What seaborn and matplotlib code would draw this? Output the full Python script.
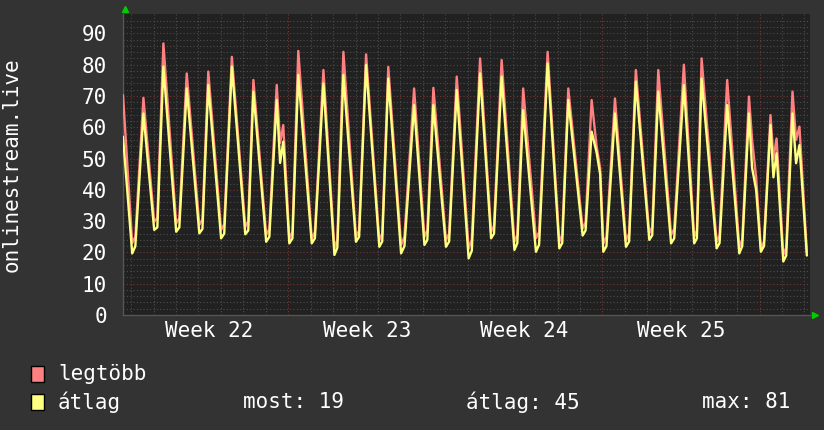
import numpy as np
import pandas as pd
import matplotlib
matplotlib.use("Agg")
import matplotlib.pyplot as plt
import seaborn as sns

# x = days since the start of Week 22 (one grid line per day)
start_day = -0.36
start_max = 70.3
start_avg = 57.0

# daily lows (early morning): start of the flat bottom
trough_day = [0.05, 1.03, 2.01, 3.04, 4.01, 5.09, 6.02, 7.05, 8.05, 9.06,
              10.02, 11.06, 12.03, 13.07, 14.03, 15.04, 16.04, 17.08, 18.04, 19.08,
              20.12, 21.04, 22.05, 23.09, 24.06, 25.09, 26.09, 27.10, 28.06, 29.06]
trough_max = [23.0, 29.8, 29.3, 28.8, 27.2, 28.2, 25.6, 24.5, 24.5, 21.3,
              25.0, 23.9, 22.4, 25.0, 23.9, 21.3, 26.6, 23.4, 24.5, 23.4,
              27.7, 22.9, 23.9, 26.1, 25.6, 25.0, 23.4, 21.8, 21.3, 19.2]
trough_avg = [19.7, 27.2, 26.6, 26.1, 24.5, 25.8, 23.4, 22.9, 22.9, 19.2,
              23.4, 21.8, 19.7, 22.4, 21.8, 18.1, 24.5, 20.8, 20.2, 21.3,
              25.4, 20.2, 21.8, 24.0, 22.9, 22.9, 21.3, 19.7, 20.2, 17.1]

# end of the flat bottom, where the climb starts
climb_day = [0.19, 1.17, 2.15, 3.18, 4.15, 5.22, 6.16, 7.19, 8.19, 9.19,
             10.16, 11.19, 12.18, 13.20, 14.17, 15.18, 16.17, 17.21, 18.18, 19.21,
             20.25, 21.18, 22.19, 23.22, 24.20, 25.21, 26.22, 27.23, 28.20, 29.19]
climb_max = [25.0, 31.0, 31.0, 30.5, 29.0, 30.0, 27.5, 26.5, 26.5, 24.0,
             27.0, 26.0, 25.0, 27.0, 26.0, 24.0, 28.5, 25.5, 26.5, 25.5,
             29.5, 25.0, 26.0, 28.0, 27.5, 27.0, 25.5, 24.0, 23.5, 21.5]
climb_avg = [22.0, 28.0, 28.0, 27.5, 26.0, 27.0, 25.0, 24.5, 24.5, 21.5,
             25.0, 23.5, 22.0, 24.0, 23.5, 20.5, 26.0, 23.0, 22.5, 23.0,
             27.0, 22.0, 23.5, 25.5, 24.5, 24.5, 23.0, 22.0, 22.0, 19.0]

# daily highs
peak_day = [0.55, 1.44, 2.48, 3.44, 4.49, 5.45, 6.49, 7.45, 8.57, 9.46,
            10.47, 11.46, 12.61, 13.47, 14.51, 15.55, 16.51, 17.47, 18.56, 19.48,
            20.52, 21.56, 22.49, 23.49, 24.63, 25.42, 26.56, 27.53, 28.49, 29.47]
peak_max = [69.4, 86.8, 77.2, 77.8, 82.5, 75.1, 73.5, 84.4, 78.3, 84.1,
            83.3, 79.3, 72.4, 72.6, 76.2, 82.0, 81.5, 72.4, 84.1, 72.4,
            68.7, 69.2, 78.3, 78.3, 80.0, 82.0, 75.1, 69.8, 63.9, 71.4]
peak_avg = [64.4, 79.4, 72.4, 73.5, 79.4, 71.4, 68.7, 76.7, 74.0, 76.7,
            79.9, 75.6, 67.1, 67.1, 71.9, 77.2, 76.2, 65.5, 80.4, 68.7,
            58.6, 64.4, 74.6, 71.4, 73.5, 75.6, 67.1, 64.4, 60.7, 64.4]

# double tops and shoulders after some of the highs
extra_day = [6.64, 6.78, 20.74, 20.90, 27.67, 27.85, 28.62, 28.76, 29.63, 29.78]
extra_max = [55.0, 60.7, 54.0, 47.0, 56.0, 44.0, 50.0, 56.4, 56.0, 60.2]
extra_avg = [48.6, 55.4, 52.0, 45.0, 47.0, 40.0, 44.0, 51.7, 48.5, 54.3]

end_day = 30.11
end_max = 20.0
end_avg = 19.0

week_labels = ["Week 22", "Week 23", "Week 24", "Week 25"]
series_names = ["legtöbb", "átlag"]
stat_labels = ["most: 19", "átlag: 45", "max: 81"]

RED = "#ff8080"
YEL = "#ffff80"
BACK = "#333333"
CANVAS = "#212121"

df = pd.DataFrame({
    "day": [start_day] + trough_day + climb_day + peak_day + extra_day + [end_day],
    "legtöbb": [start_max] + trough_max + climb_max + peak_max + extra_max + [end_max],
    "átlag": [start_avg] + trough_avg + climb_avg + peak_avg + extra_avg + [end_avg],
}).sort_values("day")
long = df.melt(id_vars="day", var_name="series", value_name="value")

sns.set_theme(style="dark")
plt.rcParams["font.family"] = ["DejaVu Sans Mono", "DejaVu Sans"]
FS = 15

fig = plt.figure(figsize=(8.24, 4.30), dpi=100, facecolor=BACK)
ax = fig.add_axes([123 / 824, 1 - 315 / 430, (810 - 123) / 824, (315 - 14) / 430])
ax.set_facecolor(CANVAS)

sns.lineplot(data=long, x="day", y="value", hue="series", hue_order=series_names,
             palette={"legtöbb": RED, "átlag": YEL}, estimator=None, sort=True,
             linewidth=1.7, legend=False, ax=ax, zorder=5)

ax.set_xlim(-0.36, 30.25)
ax.set_ylim(0, 96.2)

# grid: dotted grey every 2 / every day, dotted red every 10 / every week
dots = (0, (1, 2))
ax.set_yticks(range(0, 91, 10))
ax.set_yticks([v for v in range(2, 96, 2) if v % 10], minor=True)
ax.set_xticks(range(0, 31))
ax.set_xticklabels([])
for v in range(2, 96, 2):
    if v % 10:
        ax.axhline(v, color="#4d4d4d", lw=0.8, ls=dots, zorder=1)
for d in range(0, 31):
    if d % 7:
        ax.axvline(d, color="#4d4d4d", lw=0.8, ls=dots, zorder=1)
for v in range(10, 91, 10):
    ax.axhline(v, color="#7a3434", lw=0.8, ls=dots, zorder=2)
for d in range(0, 31, 7):
    ax.axvline(d, color="#7a3434", lw=0.8, ls=dots, zorder=2)
ax.grid(False)

ax.tick_params(axis="y", which="major", length=2, color="#777777", labelsize=FS,
               labelcolor="white", pad=9.5)
ax.tick_params(axis="y", which="minor", length=1.5, color="#555555")
ax.tick_params(axis="x", which="major", length=3, color="#666666")
ax.set_xlabel("")
ax.set_ylabel("")
for s in ax.spines.values():
    s.set_visible(False)
for side in ["left", "bottom"]:
    ax.spines[side].set_visible(True)
    ax.spines[side].set_color("#555555")
    ax.spines[side].set_linewidth(1)

for i, lab in enumerate(week_labels):
    ax.text(3.5 + 7 * i, -0.053, lab, transform=ax.get_xaxis_transform(),
            ha="center", va="center", color="white", fontsize=FS)

# green arrows at the ends of the axes
ax.plot([0.003], [1.015], marker="^", ms=5, color="#00cc00", transform=ax.transAxes,
        clip_on=False, zorder=10)
ax.plot([1.008], [0.0], marker=">", ms=5, color="#00cc00", transform=ax.transAxes,
        clip_on=False, zorder=10)

fig.text(12 / 824, 1 - 165 / 430, "onlinestream.live", rotation=90, ha="center",
         va="center", color="white", fontsize=FS)

# legend
for k, (name, col) in enumerate(zip(series_names, [RED, YEL])):
    yc = 374 + 28 * k
    fig.patches.append(plt.Rectangle((31 / 824, 1 - (yc + 8) / 430), 13 / 824, 16 / 430,
                                     transform=fig.transFigure, facecolor=col,
                                     edgecolor="black", lw=1))
    fig.text(58 / 824, 1 - yc / 430, name, ha="left", va="center", color="white",
             fontsize=FS)
for x0, lab in zip([243, 466, 702], stat_labels):
    fig.text(x0 / 824, 1 - 402 / 430, lab, ha="left", va="center", color="white",
             fontsize=FS)

fig.savefig("out.png", dpi=100, facecolor=BACK)
